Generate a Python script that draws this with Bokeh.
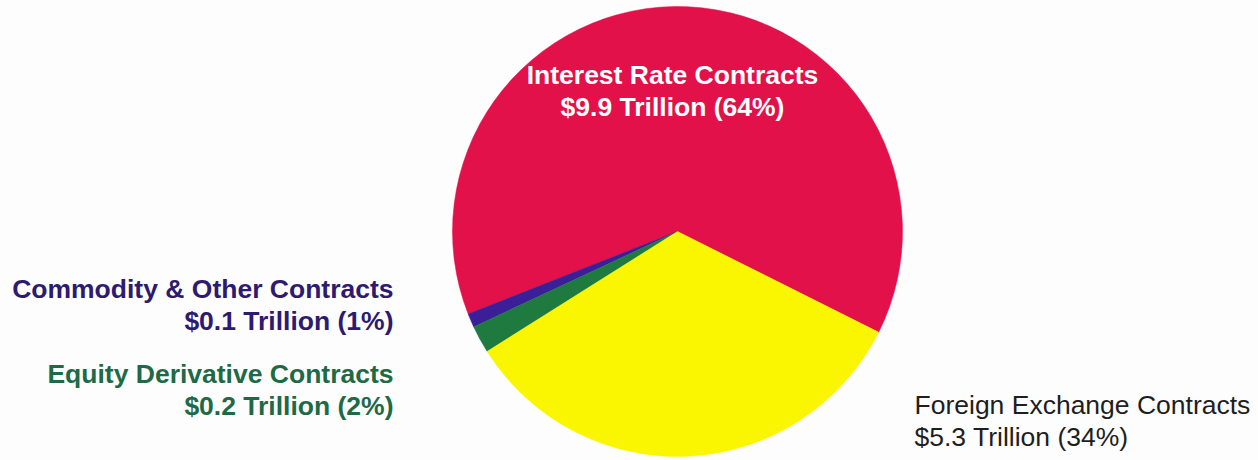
from math import pi
from bokeh.plotting import figure
from bokeh.models import ColumnDataSource, Range1d
from bokeh.core.properties import value
from bokeh.embed import file_html
from bokeh.resources import INLINE

# ---- data ----
categories = ["Interest Rate Contracts", "Commodity & Other Contracts",
              "Equity Derivative Contracts", "Foreign Exchange Contracts"]
trillions = [9.9, 0.1, 0.2, 5.3]
percents = [64, 1, 2, 34]
colors = ["#E2114A", "#3A1F98", "#1F7A40", "#FAF500"]
label_colors = ["#FFFFFF", "#2E1A6E", "#1E6A46", "#1E1E1E"]

W, H = 1258, 460
p = figure(width=W, height=H, output_backend="svg", toolbar_location=None,
           x_range=Range1d(0, W), y_range=Range1d(0, H),
           min_border=0, background_fill_color="#FDFDFD",
           border_fill_color="#FDFDFD")
p.axis.visible = False
p.grid.visible = False
p.outline_line_color = None

cx, cy, r = 677, 229, 225
start0 = -26.6 * pi / 180
total = sum(percents)
starts, ends = [], []
a = start0
for pc in percents:
    starts.append(a)
    a += pc / total * 2 * pi
    ends.append(a)

src = ColumnDataSource(dict(x=[cx] * 4, y=[cy] * 4, start=starts, end=ends,
                            color=colors, name=categories))
p.wedge(x="x", y="y", radius=r, start_angle="start", end_angle="end",
        fill_color="color", line_color="color", line_width=0.5, source=src)

# label placements (layout): x, baseline y of line 1, align, bold
place = [
    (672, H - 74, "center", "bold"),
    (393, H - 288, "right", "bold"),
    (393, H - 373, "right", "bold"),
    (914, H - 404, "left", "normal"),
]
line_gap = 32
for i, cat in enumerate(categories):
    x, y1, align, style = place[i]
    sub = f"${trillions[i]} Trillion ({percents[i]}%)"
    p.text(x=[x, x], y=[y1, y1 - line_gap], text=[cat, sub],
           text_font=value("Liberation Sans"), text_font_size="26.5px",
           text_font_style=style, text_color=label_colors[i],
           text_align=align, text_baseline="alphabetic")

open("out.html", "w").write(file_html(p, INLINE))
